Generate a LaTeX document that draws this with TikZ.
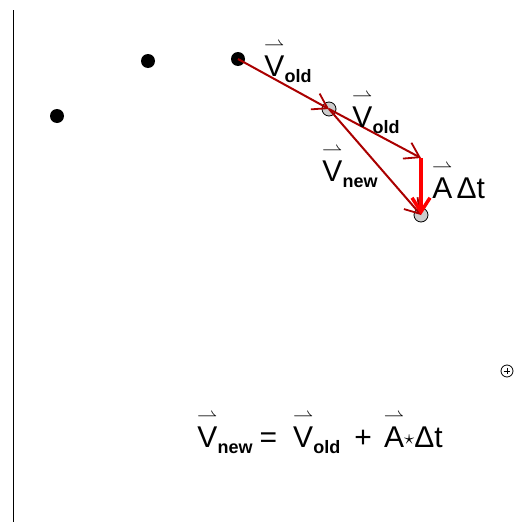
\documentclass[tikz,border=0pt]{standalone}
\usepackage{amsmath}
\usepackage{fontspec}
\setmainfont{Liberation Sans}
\usetikzlibrary{arrows.meta,calc}
\definecolor{darkred}{RGB}{170,0,0}
\newcommand{\hv}[1]{\ensuremath{\overset{\rightharpoonup}{\text{#1}}}}
\newcommand{\sub}[1]{\raisebox{-6pt}{\fontsize{18}{20}\selectfont\bfseries #1}}

\begin{document}
\begin{tikzpicture}[x=1pt,y=-1pt,font=\fontsize{30}{32}\selectfont,
  barb/.style={-{Straight Barb[length=14pt,width=18pt,line width=1.8pt]}},
  dot/.style={circle,fill=black,inner sep=0pt,minimum size=14pt},
  ghost/.style={circle,draw=black,fill=black!20,inner sep=0pt,minimum size=14pt,line width=0.8pt}]
\useasboundingbox (0,0) rectangle (522,525);
\coordinate (top) at (13,10);
\coordinate (bot) at (13,522);
\draw[line width=1pt] (top)--(bot);
% positions
\foreach \nm/\x/\y in {p1/57/116, p2/148/61, p3/238/59}{
  \node[dot] (\nm) at (\x,\y) {};
}
\node[ghost] (q1) at (329,109) {};
\node[ghost] (q2) at (421,215) {};
\coordinate (c) at (421,158);
\node[circle,draw=black,line width=0.8pt,inner sep=0pt,minimum size=12pt] (m) at (507,371) {};
\draw[line width=0.8pt] ($(m.north)+(0,3)$)--($(m.south)+(0,-3)$);
\draw[line width=0.8pt] ($(m.west)+(3,0)$)--($(m.east)+(-3,0)$);
% vectors
\draw[barb,darkred,line width=2pt] (p3.center)--(q1.center);
\draw[barb,darkred,line width=2pt] (q1.center)--(c);
\draw[barb,darkred,line width=2pt] (q1.center)--(q2.center);
\draw[-{Straight Barb[length=14pt,width=18pt,line width=3.5pt]},red,line width=4pt] (c)--(q2.center);
% labels
\node[anchor=base west,inner sep=0pt] (l1) at (264,76) {\hv{V}\sub{old}};
\node[anchor=base west,inner sep=0pt] (l2) at (352,127) {\hv{V}\sub{old}};
\node[anchor=base west,inner sep=0pt] (l3) at (322,181) {\hv{V}\sub{new}};
\node[anchor=base west,inner sep=0pt] (l4) at (432,198) {\hv{A}\hspace{4pt}Δt};
\node[anchor=base west,inner sep=0pt] (eq) at (197,447)
  {\hv{V}\sub{new}\hspace{7pt}=\hspace{16pt}\hv{V}\sub{old}\hspace{14pt}+\hspace{12pt}\hv{A}\raisebox{3pt}{\ensuremath{\scriptstyle\star}}Δt};
\end{tikzpicture}
\end{document}
